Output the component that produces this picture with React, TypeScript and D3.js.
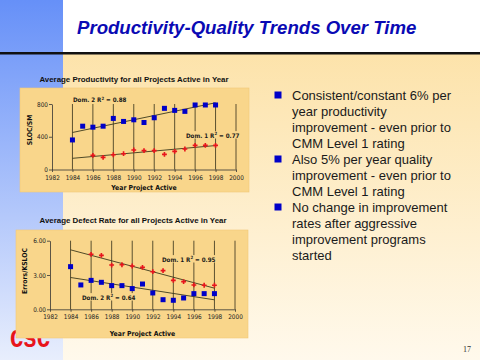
import React, { useEffect, useRef } from 'react';
import * as d3 from 'd3';

// ---- data ----
const years = [1984, 1985, 1986, 1987, 1988, 1989, 1990, 1991, 1992, 1993, 1994, 1995, 1996, 1997, 1998];
const xTicks = [1982, 1984, 1986, 1988, 1990, 1992, 1994, 1996, 1998, 2000];

const productivityDom2 = [361, 529, 517, 529, 624, 587, 607, 574, 632, 747, 722, 710, 788, 788, 788];
const productivityDom1 = [null, null, 172, 148, 180, 193, 238, 230, 230, 185, 222, 250, 295, 295, 295];
const productivityTicks = [0, 400, 800];

const defectDom1 = [null, null, 4.81, 4.72, 3.87, 3.9, 3.79, 3.67, 3.29, 3.38, 2.53, 2.42, 2.13, 2.1, 2.1];
const defectDom2 = [3.73, 2.13, 2.53, 2.36, 2.07, 2.07, 1.81, 2.21, 1.43, 0.84, 0.79, 0.99, 1.37, 1.37, 1.37];
const defectTicks = [0, 3, 6];

const bullets = [
  ['Consistent/constant 6% per', 'year productivity', 'improvement - even prior to', 'CMM Level 1 rating'],
  ['Also 5% per year quality', 'improvement - even prior to', 'CMM Level 1 rating'],
  ['No change in improvement', 'rates after aggressive', 'improvement programs', 'started'],
];

const NARROW = "'Liberation Sans Narrow', 'Arial Narrow', 'DejaVu Sans Condensed', sans-serif";
const SANS = "'Liberation Sans', Arial, sans-serif";
const BLUE = '#0000c8';
const RED = '#e8141c';
const PANEL = '#f9d68b';

type Pt = (number | null)[];

// least squares line through the non-empty points
function linearFit(values: Pt) {
  const pts = years.map((yr, i) => [yr, values[i]] as [number, number | null]).filter((p) => p[1] != null) as [number, number][];
  const mx = d3.mean(pts, (p) => p[0]) as number;
  const my = d3.mean(pts, (p) => p[1]) as number;
  const sxy = d3.sum(pts, (p) => (p[0] - mx) * (p[1] - my));
  const sxx = d3.sum(pts, (p) => (p[0] - mx) ** 2);
  const b = sxy / sxx;
  return (x: number) => my + b * (x - mx);
}

interface Note { text: string; r2: string; x: number; y: number }
interface PanelOpts {
  box: [number, number, number, number];
  plot: { left: number; right: number; top: number; bottom: number };
  title: string;
  titleX: number;
  titleY: number;
  yLabel: string;
  yLabelPos: [number, number];
  xLabelY: number;
  yMax: number;
  yTicks: number[];
  fmt: (v: number) => string;
  squares: Pt;
  crosses: Pt;
  notes: Note[];
}

function drawPanel(root: d3.Selection<SVGGElement, unknown, null, undefined>, o: PanelOpts) {
  const [bx, by, bw, bh] = o.box;
  root.append('rect').attr('x', bx).attr('y', by).attr('width', bw).attr('height', bh)
    .attr('fill', PANEL).attr('stroke', '#f0c878').attr('stroke-width', 0.6);

  root.append('text').attr('x', o.titleX).attr('y', o.titleY).attr('text-anchor', 'middle')
    .attr('font-family', SANS).attr('font-weight', 'bold').attr('font-size', 7.9).attr('fill', '#111')
    .text(o.title);

  const x = d3.scaleLinear().domain([1982, 2000]).range([o.plot.left, o.plot.right]);
  const y = d3.scaleLinear().domain([0, o.yMax]).range([o.plot.bottom, o.plot.top]);
  const g = root.append('g');

  // vertical gridlines
  g.selectAll('line.grid').data(xTicks.slice(1)).join('line')
    .attr('x1', (d) => x(d)).attr('x2', (d) => x(d))
    .attr('y1', y(o.yMax)).attr('y2', y(0))
    .attr('stroke', '#4a4226').attr('stroke-width', 0.9);

  // trend lines
  [o.squares, o.crosses].forEach((vals) => {
    const f = linearFit(vals);
    const ends = [years[0], years[years.length - 1]];
    g.append('path')
      .attr('d', d3.line<number>().x((d) => x(d)).y((d) => y(f(d)))(ends) as string)
      .attr('fill', 'none').attr('stroke', '#3c3a1c').attr('stroke-width', 0.9);
  });

  // R² notes
  o.notes.forEach((n) => {
    const t = g.append('text').attr('x', n.x).attr('y', n.y)
      .attr('font-family', NARROW).attr('font-weight', 'bold').attr('font-size', 6.2).attr('fill', '#1a1a1a');
    t.append('tspan').text(n.text);
    t.append('tspan').attr('dy', -2.4).attr('font-size', 4.3).text('2');
    t.append('tspan').attr('dy', 2.4).text(n.r2);
    const bb = (t.node() as SVGTextElement).getBBox();
    g.insert('rect', () => t.node() as SVGTextElement)
      .attr('x', bb.x - 1).attr('y', bb.y).attr('width', bb.width + 2).attr('height', bb.height)
      .attr('fill', PANEL);
  });

  // markers
  g.selectAll('rect.sq').data(years.filter((_, i) => o.squares[i] != null)).join('rect')
    .attr('x', (d) => x(d) - 2.5).attr('y', (d) => y(o.squares[years.indexOf(d)] as number) - 2.5)
    .attr('width', 5).attr('height', 5).attr('fill', BLUE);
  g.selectAll('path.cr').data(years.filter((_, i) => o.crosses[i] != null)).join('path')
    .attr('d', d3.symbol(d3.symbolCross, 13)() as string)
    .attr('transform', (d) => `translate(${x(d)},${y(o.crosses[years.indexOf(d)] as number)}) rotate(0)`)
    .attr('fill', RED);

  // axes
  const xa = g.append('g').attr('transform', `translate(0,${o.plot.bottom})`)
    .call(d3.axisBottom(x).tickValues(xTicks).tickSize(2.5).tickSizeOuter(0).tickPadding(3).tickFormat(d3.format('d')));
  const ya = g.append('g').attr('transform', `translate(${o.plot.left},0)`)
    .call(d3.axisLeft(y).tickValues(o.yTicks).tickSize(3).tickSizeOuter(0).tickPadding(1).tickFormat((d) => o.fmt(d as number)));
  [xa, ya].forEach((a) => {
    a.selectAll('path,line').attr('stroke', '#333').attr('stroke-width', 0.8);
    a.selectAll('text').attr('font-family', NARROW).attr('font-size', 6.4).attr('fill', '#222');
  });

  root.append('text').attr('x', (o.plot.left + o.plot.right) / 2).attr('y', o.xLabelY)
    .attr('text-anchor', 'middle').attr('font-family', NARROW).attr('font-weight', 'bold')
    .attr('font-size', 6.8).attr('fill', '#111').text('Year Project Active');
  root.append('text')
    .attr('transform', `translate(${o.yLabelPos[0]},${o.yLabelPos[1]}) rotate(-90)`)
    .attr('text-anchor', 'middle').attr('font-family', NARROW).attr('font-weight', 'bold')
    .attr('font-size', 6.8).attr('fill', '#111').text(o.yLabel);
}

export default function App() {
  const svgRef = useRef<SVGSVGElement | null>(null);

  useEffect(() => {
    if (!svgRef.current) return;
    const svg = d3.select(svgRef.current);
    svg.selectAll('*').remove();

    const defs = svg.append('defs');
    const side = defs.append('linearGradient').attr('id', 'side').attr('x1', 0).attr('y1', 0).attr('x2', 0).attr('y2', 1);
    side.append('stop').attr('offset', '0%').attr('stop-color', '#6690f8');
    side.append('stop').attr('offset', '100%').attr('stop-color', '#e8eefd');
    const bg = defs.append('linearGradient').attr('id', 'bg').attr('x1', 0).attr('y1', 0).attr('x2', 0).attr('y2', 1);
    bg.append('stop').attr('offset', '0%').attr('stop-color', '#fcdf9f');
    bg.append('stop').attr('offset', '100%').attr('stop-color', '#fff9ec');

    svg.append('rect').attr('width', 480).attr('height', 360).attr('fill', 'url(#bg)');
    svg.append('rect').attr('width', 63).attr('height', 360).attr('fill', 'url(#side)');
    svg.append('rect').attr('x', 63).attr('width', 417).attr('height', 52).attr('fill', '#ffffff');
    svg.append('rect').attr('y', 52).attr('width', 480).attr('height', 2.5).attr('fill', '#111');

    svg.append('text').attr('x', 77).attr('y', 33.5)
      .attr('font-family', SANS).attr('font-weight', 'bold').attr('font-style', 'italic')
      .attr('font-size', 18.6).attr('fill', '#0a0ab4')
      .text('Productivity-Quality Trends Over Time');

    // CSC logo (partly under the lower chart)
    svg.append('text').attr('x', 10).attr('y', 347)
      .attr('font-family', SANS).attr('font-weight', 'bold').attr('font-size', 32)
      .attr('textLength', 40).attr('lengthAdjust', 'spacingAndGlyphs').attr('fill', RED).text('csc');

    const root = svg.append('g');
    drawPanel(root, {
      box: [20, 88, 229, 104],
      plot: { left: 52, right: 236, top: 104, bottom: 169.5 },
      title: 'Average Productivity for all Projects Active in Year',
      titleX: 134, titleY: 81.5,
      yLabel: 'SLOC/SM', yLabelPos: [32, 130],
      xLabelY: 190,
      yMax: 800, yTicks: productivityTicks, fmt: (v) => String(v),
      squares: productivityDom2, crosses: productivityDom1,
      notes: [
        { text: 'Dom. 2 R', r2: ' = 0.88', x: 73, y: 102 },
        { text: 'Dom. 1 R', r2: ' = 0.77', x: 186, y: 137.5 },
      ],
    });
    drawPanel(root, {
      box: [16, 230, 232, 108],
      plot: { left: 50, right: 235, top: 240.7, bottom: 309.3 },
      title: 'Average Defect Rate for all Projects Active in Year',
      titleX: 133, titleY: 222.5,
      yLabel: 'Errors/KSLOC', yLabelPos: [26.5, 271],
      xLabelY: 335.5,
      yMax: 6, yTicks: defectTicks, fmt: (v) => v.toFixed(2),
      squares: defectDom2, crosses: defectDom1,
      notes: [
        { text: 'Dom. 1 R', r2: ' = 0.95', x: 162, y: 261.5 },
        { text: 'Dom. 2 R', r2: ' = 0.64', x: 82, y: 299.5 },
      ],
    });

    // bullet list
    let row = 0;
    bullets.forEach((lines) => {
      const base = 100 + row * 16;
      svg.append('rect').attr('x', 274.5).attr('y', base - 8.5).attr('width', 7).attr('height', 7).attr('fill', BLUE);
      lines.forEach((l, j) => {
        svg.append('text').attr('x', 292).attr('y', base + j * 16)
          .attr('font-family', SANS).attr('font-size', 13).attr('fill', '#1a1a1a').text(l);
      });
      row += lines.length;
    });

    svg.append('text').attr('x', 467).attr('y', 352).attr('text-anchor', 'middle')
      .attr('font-family', "'Liberation Serif', serif").attr('font-size', 8).attr('fill', '#333').text('17');
  }, []);

  return (
    <svg
      ref={svgRef}
      width={480}
      height={360}
      style={{ position: 'absolute', left: 0, top: 0, display: 'block' }}
    />
  );
}
